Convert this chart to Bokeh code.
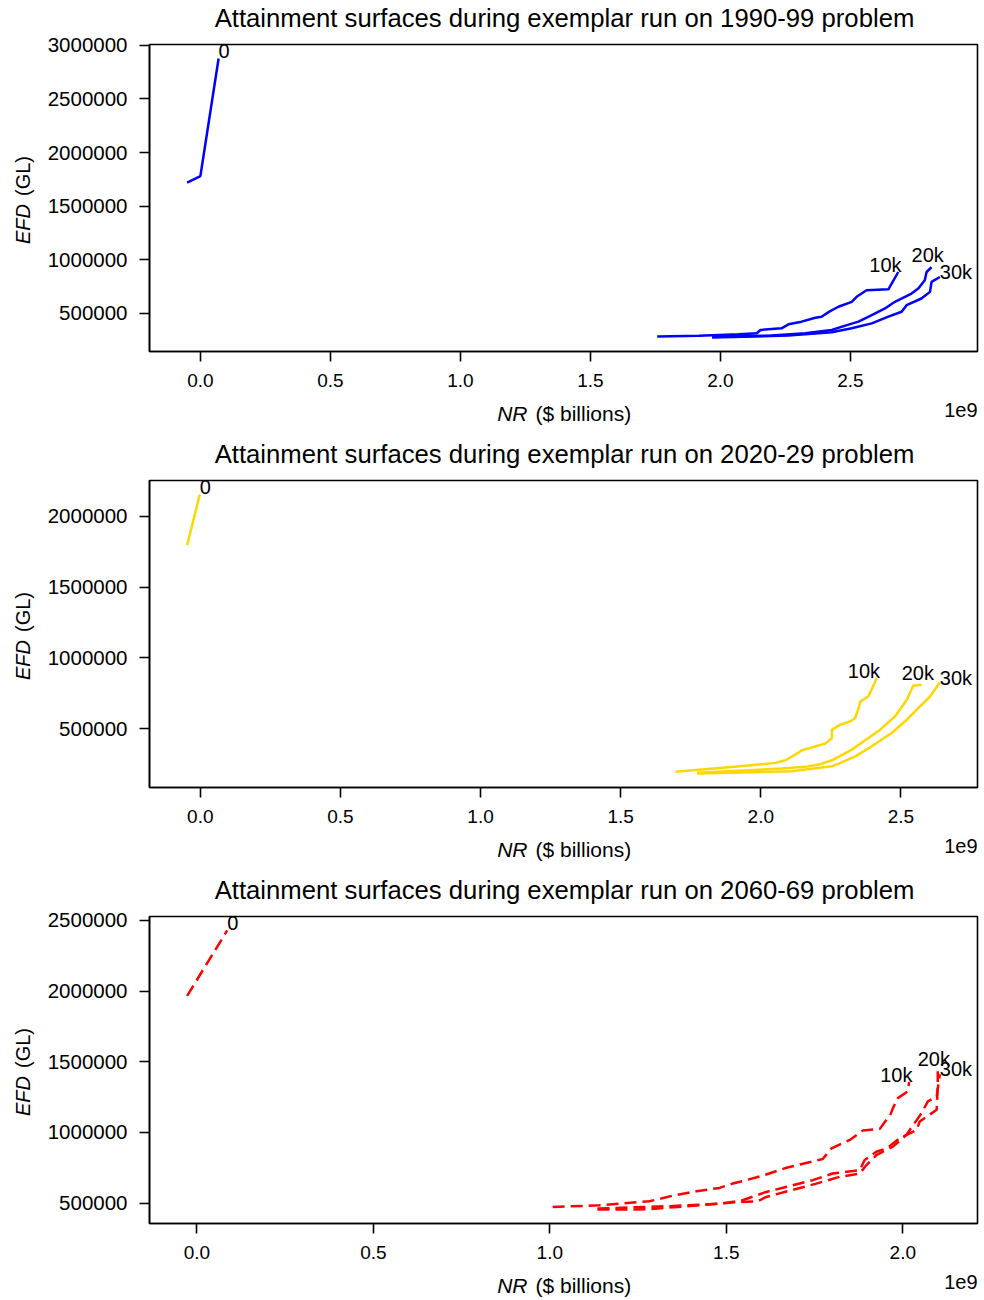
import math
import numpy as np
from bokeh.plotting import figure
from bokeh.layouts import column
from bokeh.models import (Range1d, SingleIntervalTicker, CustomJSTickFormatter,
                          BasicTickFormatter, Label, ColumnDataSource)
from bokeh.embed import file_html
from bokeh.resources import INLINE
from bokeh.core.properties import value

FONT = "Liberation Sans"

# ---------------- data: 1990-99 problem ----------------
nr_1990_0 = [-0.051e9, 0.0, 0.070e9]
efd_1990_0 = [1719000, 1781000, 2877000]
nr_1990_10k = [1.757e9, 1.917e9, 2.071e9, 2.140e9, 2.154e9, 2.235e9, 2.262e9, 2.312e9, 2.365e9,
               2.389e9, 2.422e9, 2.454e9, 2.505e9, 2.524e9, 2.562e9, 2.646e9, 2.684e9]
efd_1990_10k = [284300, 291700, 305600, 314800, 345400, 361100, 398100, 423100, 460200,
                469400, 521300, 562000, 608300, 654600, 715700, 725000, 886100]
nr_1990_20k = [1.968e9, 2.197e9, 2.326e9, 2.428e9, 2.480e9, 2.531e9, 2.582e9, 2.633e9, 2.671e9,
               2.735e9, 2.761e9, 2.786e9, 2.793e9, 2.812e9]
efd_1990_20k = [284300, 293500, 314800, 345400, 386100, 423100, 484300, 546300, 608300,
                685200, 731500, 808300, 886100, 932400]
nr_1990_30k = [1.968e9, 2.262e9, 2.428e9, 2.505e9, 2.582e9, 2.646e9, 2.697e9, 2.716e9, 2.773e9,
               2.806e9, 2.812e9, 2.844e9]
efd_1990_30k = [275000, 293500, 324100, 361100, 407400, 469400, 515700, 576900, 638900,
                700900, 793500, 839800]

# ---------------- data: 2020-29 problem ----------------
nr_2020_0 = [-0.047e9, -0.002e9]
efd_2020_0 = [1795800, 2154900]
nr_2020_10k = [1.696e9, 1.957e9, 2.052e9, 2.088e9, 2.123e9, 2.147e9, 2.195e9, 2.230e9, 2.254e9,
               2.254e9, 2.284e9, 2.319e9, 2.337e9, 2.349e9, 2.355e9, 2.384e9, 2.414e9]
efd_2020_10k = [195100, 239400, 258500, 276800, 316900, 347200, 375400, 394400, 434500,
                493000, 528200, 551400, 575400, 645800, 692300, 727500, 857000]
nr_2020_20k = [1.773e9, 2.076e9, 2.159e9, 2.206e9, 2.254e9, 2.325e9, 2.384e9, 2.426e9, 2.479e9,
               2.521e9, 2.544e9, 2.574e9]
efd_2020_20k = [188000, 218300, 230300, 246500, 276800, 352100, 434500, 493000, 586600,
                704200, 802800, 809900]
nr_2020_30k = [1.773e9, 2.111e9, 2.254e9, 2.278e9, 2.337e9, 2.396e9, 2.467e9, 2.521e9, 2.562e9,
               2.604e9, 2.639e9]
efd_2020_30k = [183100, 199300, 234500, 253500, 304900, 375400, 469700, 563400, 645800,
                727500, 826100]

# ---------------- data: 2060-69 problem ----------------
nr_2060_0 = [-0.0275e9, 0.086e9]
efd_2060_0 = [1966100, 2428700]
nr_2060_10k = [1.008e9, 1.140e9, 1.282e9, 1.353e9, 1.415e9, 1.481e9, 1.518e9, 1.546e9, 1.613e9,
               1.670e9, 1.773e9, 1.798e9, 1.850e9, 1.887e9, 1.935e9, 1.950e9, 1.964e9, 1.972e9,
               1.986e9, 2.014e9, 2.018e9]
efd_2060_10k = [471500, 483600, 512100, 554800, 583300, 606800, 637400, 654400, 701400,
                749100, 811000, 886500, 946200, 1012400, 1024500, 1076500, 1119200, 1171100,
                1242300, 1290000, 1356200]
nr_2060_20k = [1.135e9, 1.348e9, 1.481e9, 1.546e9, 1.589e9, 1.613e9, 1.745e9, 1.801e9, 1.878e9,
               1.892e9, 1.925e9, 1.954e9, 1.991e9, 2.039e9, 2.048e9, 2.096e9, 2.099e9, 2.099e9]
efd_2060_20k = [460900, 478600, 495000, 519200, 556900, 578300, 661600, 708500, 732700,
                803900, 863000, 886500, 957600, 1017400, 1076500, 1159700, 1325600, 1432300]
nr_2060_30k = [1.135e9, 1.273e9, 1.424e9, 1.538e9, 1.589e9, 1.613e9, 1.755e9, 1.821e9, 1.878e9,
               1.897e9, 1.925e9, 1.972e9, 2.010e9, 2.053e9, 2.071e9, 2.096e9, 2.105e9]
efd_2060_30k = [453700, 455000, 483600, 507100, 512100, 542700, 637400, 685000, 708500,
                768300, 839500, 898600, 981800, 1135600, 1218800, 1254400, 1411000]

surface_labels = ["0", "10k", "20k", "30k"]
label_dx = [0, -29, -20, 0]
label_dy = [-7, -7, -12, -5]

FRAME_W = 828
FRAME_H = 307
LEFT = 149
TOP = 44
BOTTOM = 85
WIDTH = 983


def make_panel(title, series, color, dash):
    xs = np.concatenate([np.asarray(s[0], dtype=float) for s in series])
    ys = np.concatenate([np.asarray(s[1], dtype=float) for s in series])
    xpad = 0.05 * (xs.max() - xs.min())
    ypad = 0.05 * (ys.max() - ys.min())
    p = figure(width=WIDTH, height=TOP + FRAME_H + BOTTOM, title=None,
               output_backend="svg", toolbar_location=None,
               x_range=Range1d(xs.min() - xpad, xs.max() + xpad),
               y_range=Range1d(ys.min() - ypad, ys.max() + ypad),
               min_border_left=LEFT, min_border_right=WIDTH - LEFT - FRAME_W,
               min_border_top=TOP, min_border_bottom=BOTTOM)

    for x, y in series:
        p.line(x, y, line_color=color, line_width=2.5, line_dash=dash)

    src = ColumnDataSource(dict(
        x=[s[0][-1] for s in series], y=[s[1][-1] for s in series],
        t=surface_labels, dx=label_dx, dy=label_dy))
    p.text(x="x", y="y", text="t", x_offset="dx", y_offset="dy", source=src,
           text_font=value(FONT), text_font_size="20px", text_color="black",
           text_baseline="alphabetic", text_align="left")

    p.xaxis.ticker = SingleIntervalTicker(interval=0.5e9, num_minor_ticks=0)
    p.xaxis.formatter = CustomJSTickFormatter(code="return (tick/1e9).toFixed(1);")
    p.yaxis.ticker = SingleIntervalTicker(interval=500000, num_minor_ticks=0)
    p.yaxis.formatter = BasicTickFormatter(use_scientific=False)
    for ax in (p.xaxis[0], p.yaxis[0]):
        ax.axis_line_width = 1.6
        ax.axis_line_color = "black"
        ax.major_tick_out = 10
        ax.major_tick_in = 0
        ax.major_tick_line_width = 1.6
        ax.major_tick_line_color = "black"
        ax.minor_tick_line_color = None
        ax.major_label_text_font = FONT
        ax.major_label_text_color = "black"
        ax.major_label_standoff = 12
    p.xaxis.major_label_text_font_size = "19px"
    p.yaxis.major_label_text_font_size = "20.5px"
    p.xgrid.visible = False
    p.ygrid.visible = False
    p.outline_line_color = "black"
    p.outline_line_width = 1.6
    p.outline_line_alpha = 1.0
    p.background_fill_color = "white"
    p.border_fill_color = "white"

    ft = TOP
    fb = TOP + FRAME_H
    cx = LEFT + FRAME_W / 2
    cy = TOP + FRAME_H / 2
    common = dict(x_units="canvas", y_units="canvas", text_font=FONT,
                  text_color="black", text_baseline="middle")
    # title and the "1e9" offset text live in the top side panel (positions are canvas px)
    p.add_layout(Label(x=cx + 1, y=ft - 26.5, text=title, text_align="center",
                       text_font_size="25.7px", **common), "above")
    p.add_layout(Label(x=LEFT + FRAME_W, y=fb + 58, text="1e9", text_align="right",
                       text_font_size="20px", **common), "above")
    p.add_layout(Label(x=cx - 36, y=fb + 62, text="NR", text_align="right",
                       text_font_style="italic", text_font_size="21px", **common), "below")
    p.add_layout(Label(x=cx - 28, y=fb + 62, text="($ billions)", text_align="left",
                       text_font_size="21px", **common), "below")
    p.add_layout(Label(x=22, y=cy + 6, text="EFD", angle=math.pi / 2,
                       text_align="right", text_font_style="italic",
                       text_font_size="20px", **common), "left")
    p.add_layout(Label(x=22, y=cy - 2, text="(GL)", angle=math.pi / 2,
                       text_align="left", text_font_size="20px", **common), "left")
    return p


p1 = make_panel("Attainment surfaces during exemplar run on 1990-99 problem",
                [(nr_1990_0, efd_1990_0), (nr_1990_10k, efd_1990_10k),
                 (nr_1990_20k, efd_1990_20k), (nr_1990_30k, efd_1990_30k)],
                "#0000FF", "solid")
p2 = make_panel("Attainment surfaces during exemplar run on 2020-29 problem",
                [(nr_2020_0, efd_2020_0), (nr_2020_10k, efd_2020_10k),
                 (nr_2020_20k, efd_2020_20k), (nr_2020_30k, efd_2020_30k)],
                "#FFD700", "solid")
p3 = make_panel("Attainment surfaces during exemplar run on 2060-69 problem",
                [(nr_2060_0, efd_2060_0), (nr_2060_10k, efd_2060_10k),
                 (nr_2060_20k, efd_2060_20k), (nr_2060_30k, efd_2060_30k)],
                "#FF0000", "12 6")

layout = column(p1, p2, p3)
open("out.html", "w").write(file_html(layout, INLINE))
